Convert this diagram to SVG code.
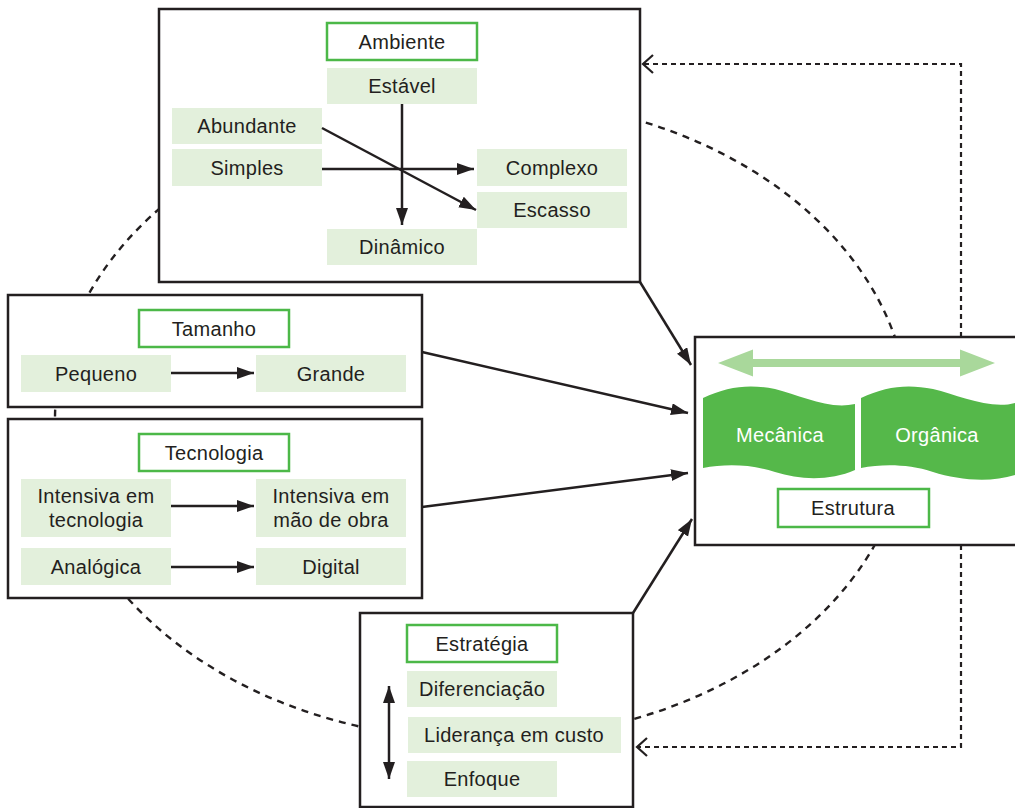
<svg xmlns="http://www.w3.org/2000/svg" width="1015" height="808" viewBox="0 0 1015 808">
<defs>
<style>
.box{fill:#fff;stroke:#231f20;stroke-width:2.5}
.title{fill:#fff;stroke:#4cb848;stroke-width:2.5}
.item{fill:#e3f0dc}
.t{font-family:"Liberation Sans",Arial,sans-serif;font-size:20px;letter-spacing:0.3px;fill:#231f20;text-anchor:middle}
.w{font-family:"Liberation Sans",Arial,sans-serif;font-size:20px;letter-spacing:0.3px;fill:#fff;text-anchor:middle}
.arr{stroke:#231f20;stroke-width:2.5;fill:none}
.dot{stroke:#231f20;stroke-width:2.2;fill:none;stroke-dasharray:5 4}
.dash{stroke:#231f20;stroke-width:2.4;fill:none;stroke-dasharray:7 6}
</style>
<marker id="ah" markerUnits="userSpaceOnUse" markerWidth="18" markerHeight="13" refX="17" refY="6" orient="auto-start-reverse">
<path d="M0,0 L17,6 L0,12 Z" fill="#231f20"/>
</marker>
<marker id="oh" markerUnits="userSpaceOnUse" markerWidth="14" markerHeight="22" refX="11" refY="10" orient="auto">
<path d="M1,1 L11,10 L1,19" fill="none" stroke="#231f20" stroke-width="2.2"/>
</marker>
</defs>

<ellipse class="dash" cx="482" cy="419" rx="427" ry="321"/>

<g id="connectors">
<line class="arr" x1="640" y1="282" x2="691" y2="365" marker-end="url(#ah)"/>
<line class="arr" x1="422" y1="352" x2="688" y2="413" marker-end="url(#ah)"/>
<line class="arr" x1="422" y1="507" x2="688" y2="473" marker-end="url(#ah)"/>
<line class="arr" x1="633" y1="613" x2="692" y2="519" marker-end="url(#ah)"/>
<polyline class="dot" points="961,337 961,64 643,64" marker-end="url(#oh)"/>
<polyline class="dot" points="961,545 961,747 637,747" marker-end="url(#oh)"/>
</g>

<g id="ambiente">
<rect class="box" x="159" y="9" width="481" height="273"/>
<rect class="title" x="327" y="23" width="150" height="37"/>
<text class="t" x="402" y="49">Ambiente</text>
<rect class="item" x="327" y="68" width="150" height="36"/>
<text class="t" x="402" y="93">Estável</text>
<rect class="item" x="172" y="108" width="150" height="36"/>
<text class="t" x="247" y="133">Abundante</text>
<rect class="item" x="172" y="149" width="150" height="37"/>
<text class="t" x="247" y="175">Simples</text>
<rect class="item" x="477" y="149" width="150" height="37"/>
<text class="t" x="552" y="175">Complexo</text>
<rect class="item" x="477" y="192" width="150" height="36"/>
<text class="t" x="552" y="217">Escasso</text>
<rect class="item" x="327" y="229" width="150" height="36"/>
<text class="t" x="402" y="254">Dinâmico</text>
<line class="arr" x1="402" y1="104" x2="402" y2="225" marker-end="url(#ah)"/>
<line class="arr" x1="322" y1="169" x2="474" y2="169" marker-end="url(#ah)"/>
<line class="arr" x1="322" y1="128" x2="476" y2="210" marker-end="url(#ah)"/>
</g>

<g id="tamanho">
<rect class="box" x="8" y="295" width="414" height="112"/>
<rect class="title" x="139" y="310" width="150" height="37"/>
<text class="t" x="214" y="336">Tamanho</text>
<rect class="item" x="21" y="355" width="150" height="37"/>
<text class="t" x="96" y="381">Pequeno</text>
<rect class="item" x="256" y="355" width="150" height="37"/>
<text class="t" x="331" y="381">Grande</text>
<line class="arr" x1="171" y1="373" x2="254" y2="373" marker-end="url(#ah)"/>
</g>

<g id="tecnologia">
<rect class="box" x="8" y="419" width="414" height="179"/>
<rect class="title" x="139" y="434" width="150" height="37"/>
<text class="t" x="214" y="460">Tecnologia</text>
<rect class="item" x="21" y="479" width="150" height="58"/>
<text class="t" x="96" y="503">Intensiva em</text>
<text class="t" x="96" y="527">tecnologia</text>
<rect class="item" x="256" y="479" width="150" height="58"/>
<text class="t" x="331" y="503">Intensiva em</text>
<text class="t" x="331" y="527">mão de obra</text>
<line class="arr" x1="171" y1="506" x2="254" y2="506" marker-end="url(#ah)"/>
<rect class="item" x="21" y="548" width="150" height="37"/>
<text class="t" x="96" y="574">Analógica</text>
<rect class="item" x="256" y="548" width="150" height="37"/>
<text class="t" x="331" y="574">Digital</text>
<line class="arr" x1="171" y1="567" x2="254" y2="567" marker-end="url(#ah)"/>
</g>

<g id="estrategia">
<rect class="box" x="360" y="613" width="273" height="194"/>
<rect class="title" x="407" y="625" width="150" height="37"/>
<text class="t" x="482" y="651">Estratégia</text>
<rect class="item" x="407" y="671" width="150" height="36"/>
<text class="t" x="482" y="696">Diferenciação</text>
<rect class="item" x="408" y="717" width="213" height="36"/>
<text class="t" x="514" y="742">Liderança em custo</text>
<rect class="item" x="407" y="761" width="150" height="36"/>
<text class="t" x="482" y="786">Enfoque</text>
<line class="arr" x1="389" y1="686" x2="389" y2="779" marker-start="url(#ah)" marker-end="url(#ah)"/>
</g>

<g id="estrutura">
<rect class="box" x="695" y="337" width="330" height="208"/>
<polygon fill="#a9d89b" points="718,363 753,349.5 753,359 960,359 960,349.5 995,363 960,376.5 960,367 753,367 753,376.5"/>
<path fill="#55b84a" d="M703,398 C728,386 750,384 775,389 C800,395 828,410 855,404 L855,470 C830,481 800,480 775,472 C750,464 725,464 703,468 Z"/>
<path fill="#55b84a" d="M861,398 C886,386 908,384 933,389 C958,395 990,410 1015,403 L1015,475 C990,483 958,480 933,472 C908,464 883,464 861,468 Z"/>
<text class="w" x="780" y="442">Mecânica</text>
<text class="w" x="937" y="442">Orgânica</text>
<rect class="title" x="778" y="489" width="151" height="38"/>
<text class="t" x="853" y="515">Estrutura</text>
</g>
</svg>
